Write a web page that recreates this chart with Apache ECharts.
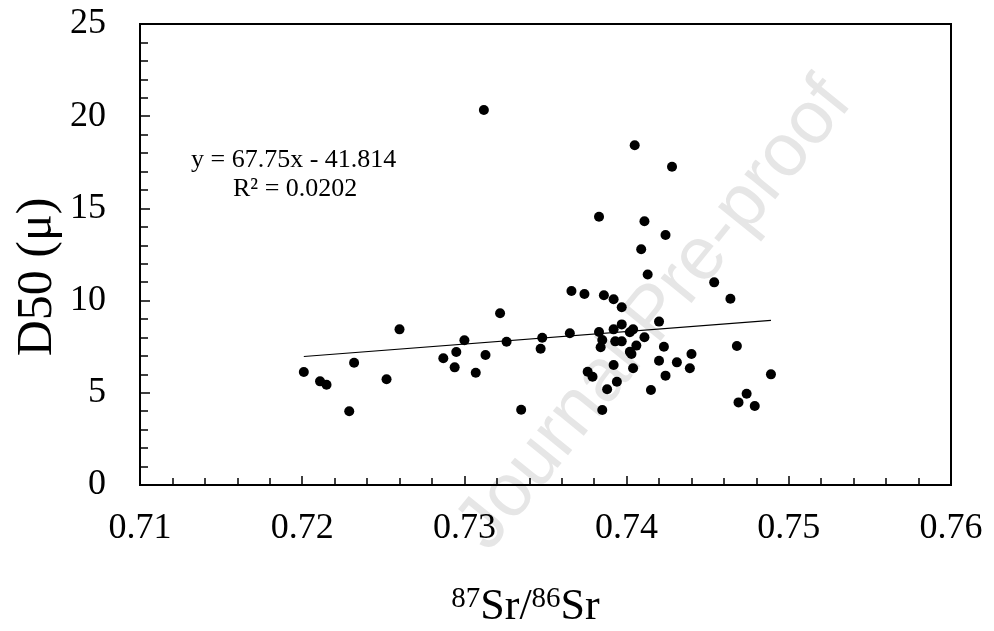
<!DOCTYPE html>
<html>
<head>
<meta charset="utf-8">
<script src="https://cdn.jsdelivr.net/npm/echarts@6/dist/echarts.min.js"></script>
<style>
  html, body { margin: 0; padding: 0; background: #fff; }
  #chart { width: 994px; height: 631px; }
</style>
</head>
<body>
<div id="chart"></div>
<script>
// 87Sr/86Sr of each sample
const srRatio = [
  0.7312, 0.7201, 0.7211, 0.7215, 0.7229, 0.7232, 0.7252, 0.7260, 0.7287, 0.7294,
  0.7295, 0.7300, 0.7307, 0.7313, 0.7322, 0.7326, 0.7335, 0.7347, 0.7348,
  0.7405, 0.7428, 0.7383, 0.7411, 0.7424, 0.7409, 0.7413, 0.7454, 0.7464,
  0.7366, 0.7374, 0.7386, 0.7392, 0.7397, 0.7420, 0.7365, 0.7383, 0.7397,
  0.7392, 0.7404, 0.7402, 0.7385, 0.7393, 0.7397, 0.7411, 0.7384, 0.7406,
  0.7402, 0.7403, 0.7423, 0.7440, 0.7420, 0.7431, 0.7439, 0.7392, 0.7404,
  0.7376, 0.7379, 0.7424, 0.7394, 0.7388, 0.7415, 0.7385, 0.7468, 0.7489,
  0.7474, 0.7469, 0.7479
];
// D50 grain size (μ)
const d50 = [
  20.34, 6.13, 5.62, 5.44, 4.00, 6.63, 5.73, 8.44, 6.87, 6.38,
  7.21, 7.85, 6.09, 7.05, 9.31, 7.77, 4.08, 7.39, 7.99,
  18.42, 17.26, 14.55, 14.30, 13.56, 12.78, 11.42, 10.99, 10.10,
  10.52, 10.36, 10.29, 10.07, 9.64, 8.86, 8.23, 8.30, 8.71,
  8.44, 8.44, 8.28, 7.86, 7.79, 7.79, 8.01, 7.47, 7.56,
  7.23, 7.10, 7.50, 7.10, 6.74, 6.65, 6.33, 6.51, 6.33,
  6.14, 5.87, 5.93, 5.60, 5.19, 5.15, 4.07, 7.54, 6.00,
  4.95, 4.48, 4.28
];
// linear trend line end points
const trendX = [0.7201, 0.7489];
const trendY = [6.97, 8.93];

const xTicks = [0.71, 0.72, 0.73, 0.74, 0.75, 0.76];
const yTicks = [0, 5, 10, 15, 20, 25];

const serif = '"Liberation Serif", "DejaVu Serif", serif';

const chart = echarts.init(document.getElementById('chart'));

const option = {
  animation: false,
  backgroundColor: '#fff',
  grid: {
    left: 140, top: 24, right: 43, bottom: 146,
    outerBoundsMode: 'none', containLabel: false,
    show: true, borderColor: '#000', borderWidth: 2
  },
  xAxis: {
    type: 'value',
    min: xTicks[0], max: xTicks[xTicks.length - 1], interval: 0.01,
    name: '{sup|87}{b|Sr/}{sup|86}{b|Sr}',
    nameLocation: 'middle', nameGap: 100,
    nameTextStyle: {
      fontFamily: serif, color: '#000',
      padding: [0, 40, 0, 0],
      rich: {
        sup: { fontFamily: serif, fontSize: 29, color: '#000', verticalAlign: 'top', padding: [0, 0, 13, 0] },
        b: { fontFamily: serif, fontSize: 44, color: '#000', verticalAlign: 'bottom' }
      }
    },
    axisLine: { lineStyle: { color: '#000', width: 2 } },
    axisTick: { inside: true, length: 9, lineStyle: { color: '#000', width: 1.5 } },
    minorTick: { show: true, splitNumber: 5, length: 7, lineStyle: { color: '#000', width: 1.5 } },
    splitLine: { show: false },
    axisLabel: {
      margin: 26, fontFamily: serif, fontSize: 36, color: '#000',
      formatter: (v) => v.toFixed(2)
    }
  },
  yAxis: {
    type: 'value',
    min: yTicks[0], max: yTicks[yTicks.length - 1], interval: 5,
    axisLine: { lineStyle: { color: '#000', width: 2 } },
    axisTick: { inside: true, length: 10, lineStyle: { color: '#000', width: 1.5 } },
    minorTick: { show: true, splitNumber: 5, length: 8, lineStyle: { color: '#000', width: 1.5 } },
    splitLine: { show: false },
    axisLabel: { margin: 34, fontFamily: serif, fontSize: 36, color: '#000' }
  },
  graphic: [
    {
      type: 'text', x: 655, y: 315, z: 0,
      rotation: 51 * Math.PI / 180,
      style: {
        text: 'Journal Pre-proof',
        font: '75px "Liberation Sans", Arial, sans-serif',
        fill: '#e6e6e6', align: 'center', verticalAlign: 'middle'
      }
    },
    // y axis title, sits a little below the plot centre as in the source
    {
      type: 'text', x: 38, y: 277, z: 10,
      rotation: Math.PI / 2,
      style: {
        text: 'D50 (μ)', font: '50px ' + serif, fill: '#000',
        align: 'center', verticalAlign: 'middle'
      }
    },
    {
      type: 'text', x: 191, y: 147, z: 10,
      style: { text: 'y = 67.75x - 41.814', font: '26px ' + serif, fill: '#000' }
    },
    {
      type: 'text', x: 233, y: 176, z: 10,
      style: { text: 'R² = 0.0202', font: '26px ' + serif, fill: '#000' }
    }
  ],
  series: [
    {
      type: 'line',
      data: trendX.map((x, i) => [x, trendY[i]]),
      symbol: 'none',
      lineStyle: { color: '#000', width: 1.2 },
      z: 3
    },
    {
      type: 'scatter',
      data: srRatio.map((x, i) => [x, d50[i]]),
      symbol: 'circle',
      symbolSize: 10,
      itemStyle: { color: '#000', opacity: 1 },
      z: 4
    }
  ]
};

chart.setOption(option);
</script>
</body>
</html>
